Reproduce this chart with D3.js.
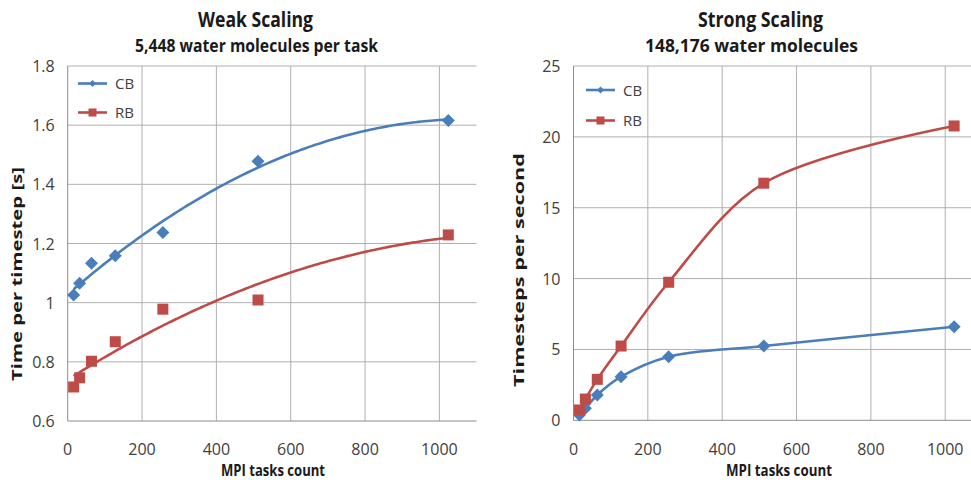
<!DOCTYPE html>
<html><head><meta charset="utf-8">
<script src="https://cdn.jsdelivr.net/npm/d3@7"></script>
<style>
html,body{margin:0;padding:0;background:#fff;}
svg text{font-family:"Open Sans","Liberation Sans",sans-serif;}
</style></head>
<body><svg id="c" width="971" height="480"></svg>
<script>
// ---- data ----
const tasks = [16, 32, 64, 128, 256, 512, 1024];
const weakCB = [1.026, 1.066, 1.133, 1.159, 1.237, 1.478, 1.616];
const weakRB = [0.715, 0.746, 0.802, 0.868, 0.978, 1.009, 1.229];
const strongCB = [0.37, 0.85, 1.79, 3.08, 4.49, 5.24, 6.6];
const strongRB = [0.73, 1.50, 2.89, 5.24, 9.74, 16.73, 20.77];
const xTicks = [0, 200, 400, 600, 800, 1000];
const weakYTicks = [0.6, 0.8, 1, 1.2, 1.4, 1.6, 1.8];
const strongYTicks = [0, 5, 10, 15, 20, 25];
const seriesNames = ["CB", "RB"];

const BLUE = "#4a7ebb", RED = "#be4b48";
const GRID = "#b0b0b0", AXIS = "#8c8c8c", TICK = "#404040", DARK = "#1a1a1a";
const svg = d3.select("#c");

function quadFit(xs, ys) {
  // least squares trendline y = a + b x + c x^2
  let n = xs.length, S = [0,0,0,0,0], T = [0,0,0];
  for (let i = 0; i < n; i++) {
    let p = 1;
    for (let k = 0; k < 5; k++) { S[k] += p; if (k < 3) T[k] += p * ys[i]; p *= xs[i]; }
  }
  const M = [[S[0],S[1],S[2],T[0]],[S[1],S[2],S[3],T[1]],[S[2],S[3],S[4],T[2]]];
  for (let i = 0; i < 3; i++) {
    for (let j = i + 1; j < 3; j++) {
      const f = M[j][i] / M[i][i];
      for (let k = i; k < 4; k++) M[j][k] -= f * M[i][k];
    }
  }
  const r = [0,0,0];
  for (let i = 2; i >= 0; i--) {
    let s = M[i][3];
    for (let k = i + 1; k < 3; k++) s -= M[i][k] * r[k];
    r[i] = s / M[i][i];
  }
  return x => r[0] + r[1] * x + r[2] * x * x;
}

function marker(g, type, x, y, s, color) {
  if (type === "diamond") {
    g.append("path").attr("d", `M${x},${y - s}L${x + s},${y}L${x},${y + s}L${x - s},${y}Z`).attr("fill", color);
  } else {
    g.append("rect").attr("x", x - s).attr("y", y - s).attr("width", 2 * s).attr("height", 2 * s).attr("fill", color);
  }
}

function label(g, x, y, txt, size, len, anchor) {
  return g.append("text").attr("x", x).attr("y", y).attr("text-anchor", anchor || "middle")
    .attr("font-size", size).attr("font-weight", "bold").attr("fill", DARK)
    .attr("textLength", len).attr("lengthAdjust", "spacingAndGlyphs").text(txt);
}

function chart(o) {
  const g = svg.append("g");
  const x = d3.scaleLinear().domain([0, 1100]).range([o.x0, o.x0 + 1100 * 0.3717]);
  const y = d3.scaleLinear().domain(o.yDomain).range([o.yBottom, 66]);
  const xr = x.range()[1];
  g.selectAll(".hg").data(o.yTicks.slice(1)).enter().append("line")
    .attr("x1", o.x0).attr("x2", xr).attr("y1", d => y(d)).attr("y2", d => y(d))
    .attr("stroke", GRID).attr("stroke-width", 1);
  g.selectAll(".vg").data(xTicks.slice(1)).enter().append("line")
    .attr("x1", d => x(d)).attr("x2", d => x(d)).attr("y1", 66).attr("y2", o.yBottom)
    .attr("stroke", GRID).attr("stroke-width", 1);
  g.append("line").attr("x1", o.x0).attr("x2", o.x0).attr("y1", 66).attr("y2", o.yBottom).attr("stroke", AXIS);
  g.append("line").attr("x1", o.x0).attr("x2", xr).attr("y1", o.yBottom).attr("y2", o.yBottom).attr("stroke", AXIS);
  g.selectAll(".yt").data(o.yTicks).enter().append("text")
    .attr("x", o.x0 - 13).attr("y", d => y(d) + 6).attr("text-anchor", "end")
    .attr("font-size", 16).attr("fill", TICK).text(d => d3.format("")(d));
  g.selectAll(".xt").data(xTicks).enter().append("text")
    .attr("x", d => x(d)).attr("y", 455).attr("text-anchor", "middle")
    .attr("font-size", 16).attr("fill", TICK).text(d => d);

  label(g, o.tx, 27, o.title, 21, o.tlen);
  label(g, o.sx, 52, o.subtitle, 17.5, o.slen);
  label(g, o.mx, 476, "MPI tasks count", 16.5, o.mlen);
  g.append("text").attr("transform", `translate(${o.yTitleX},${o.yTitleY}) rotate(-90)`)
    .attr("text-anchor", "middle").attr("font-size", 15).attr("font-weight", "bold")
    .attr("fill", DARK).attr("textLength", o.ylen).attr("lengthAdjust", "spacingAndGlyphs").text(o.yTitle);

  const series = [
    { name: seriesNames[0], vals: o.cb, color: BLUE, type: "diamond", s: o.ds },
    { name: seriesNames[1], vals: o.rb, color: RED, type: "square", s: o.ss }
  ];
  series.forEach(sr => {
    let line;
    if (o.trend) {
      const f = quadFit(tasks, sr.vals);
      const pts = d3.range(tasks[0], tasks[tasks.length - 1] + 1, 8).map(t => [t, f(t)]);
      line = d3.line().x(d => x(d[0])).y(d => y(d[1]))(pts);
    } else {
      line = d3.line().curve(d3.curveCatmullRom.alpha(0.5)).x(d => x(d[0])).y(d => y(d[1]))(tasks.map((t, i) => [t, sr.vals[i]]));
    }
    g.append("path").attr("d", line).attr("fill", "none").attr("stroke", sr.color).attr("stroke-width", 2.6);
    tasks.forEach((t, i) => marker(g, sr.type, x(t), y(sr.vals[i]), sr.s, sr.color));
  });
  series.forEach((sr, i) => {
    const ly = o.legY[i];
    g.append("line").attr("x1", o.legX).attr("x2", o.legX + 29).attr("y1", ly).attr("y2", ly)
      .attr("stroke", sr.color).attr("stroke-width", 2.6);
    marker(g, sr.type, o.legX + 14.5, ly, sr.type === "diamond" ? 3.5 : 4, sr.color);
    g.append("text").attr("x", o.legX + 37).attr("y", ly + 5.5).attr("font-size", 15)
      .attr("fill", TICK).text(sr.name);
  });
}

chart({ x0: 67.7, yBottom: 421, yDomain: [0.6, 1.8], yTicks: weakYTicks,
  cb: weakCB, rb: weakRB, trend: true, ds: 6.5, ss: 5.5,
  title: "Weak Scaling", tx: 255.5, tlen: 115,
  subtitle: "5,448 water molecules per task", sx: 256.5, slen: 243,
  mx: 273, mlen: 104,
  yTitle: "Time per timestep [s]", yTitleX: 22, yTitleY: 274, ylen: 214,
  legX: 78, legY: [83.5, 112.5] });
chart({ x0: 573.5, yBottom: 420.3, yDomain: [0, 25], yTicks: strongYTicks,
  cb: strongCB, rb: strongRB, trend: false, ds: 6.5, ss: 5.5,
  title: "Strong Scaling", tx: 760.5, tlen: 125,
  subtitle: "148,176 water molecules", sx: 751.5, slen: 213,
  mx: 779, mlen: 106,
  yTitle: "Timesteps per second", yTitleX: 524, yTitleY: 270, ylen: 234,
  legX: 586, legY: [90, 120.5] });
</script></body></html>
